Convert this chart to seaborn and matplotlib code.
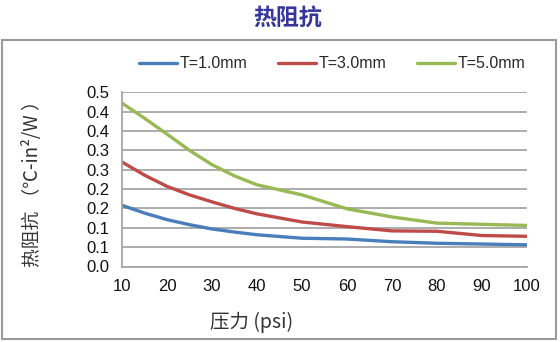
import matplotlib
matplotlib.use("Agg")
import matplotlib.pyplot as plt
import matplotlib.patches as mpatches
import seaborn as sns
import pandas as pd

# ---- data ----
pressure = [10, 15, 20, 25, 30, 35, 40, 50, 60, 70, 80, 90, 100]
t10 = [0.158, 0.138, 0.121, 0.108, 0.097, 0.089, 0.082, 0.073, 0.071, 0.064, 0.060, 0.058, 0.056]
t30 = [0.270, 0.236, 0.207, 0.185, 0.167, 0.150, 0.136, 0.115, 0.103, 0.092, 0.091, 0.080, 0.078]
t50 = [0.422, 0.383, 0.342, 0.300, 0.263, 0.234, 0.211, 0.185, 0.149, 0.128, 0.112, 0.109, 0.106]
series_names = ["T=1.0mm", "T=3.0mm", "T=5.0mm"]
colors = ["#4A7EBB", "#BE4B48", "#98B954"]
x_ticks = [10, 20, 30, 40, 50, 60, 70, 80, 90, 100]
y_ticks = [0.0, 0.05, 0.10, 0.15, 0.20, 0.25, 0.30, 0.35, 0.40, 0.45]
y_tick_labels = ["0.0", "0.1", "0.1", "0.2", "0.2", "0.3", "0.3", "0.4", "0.4", "0.5"]
title = "热阻抗"
x_label = "压力 (psi)"
y_label = "热阻抗 （℃-in²/W ）"

rows = []
for name, vals in zip(series_names, [t10, t30, t50]):
    for p, v in zip(pressure, vals):
        rows.append({"pressure": p, "value": v, "series": name})
df = pd.DataFrame(rows)

sns.set_theme(style="white")
plt.rcParams["font.family"] = ["Noto Sans CJK SC", "DejaVu Sans"]

W, H = 560, 342
fig = plt.figure(figsize=(W / 100, H / 100), dpi=100)
ax = fig.add_axes([122 / W, 1 - 266.5 / H, (527 - 122) / W, (266.5 - 92.3) / H])

sns.lineplot(data=df, x="pressure", y="value", hue="series",
             palette=dict(zip(series_names, colors)), linewidth=2.4,
             ax=ax, legend=True)
for ln in ax.lines:
    ln.set_solid_joinstyle("round")

ax.set_xlim(10, 100)
ax.set_ylim(0, 0.45)
ax.set_xticks(x_ticks)
ax.set_yticks(y_ticks)
ax.set_yticklabels(y_tick_labels)
ax.set_xticklabels([str(v) for v in x_ticks])
ax.set_xlabel("")
ax.set_ylabel("")
grid_c = "#A6A6A6"
ax.yaxis.grid(True, color=grid_c, linewidth=1.3)
ax.xaxis.grid(False)
for s in ["top", "right"]:
    ax.spines[s].set_visible(False)
for s in ["left", "bottom"]:
    ax.spines[s].set_color(grid_c)
    ax.spines[s].set_linewidth(1.3)
ax.tick_params(axis="both", direction="out", length=5, width=1.3, color=grid_c,
               labelsize=12, labelcolor="#111111", pad=4)
for lab in ax.get_xticklabels() + ax.get_yticklabels():
    lab.set_family(["Liberation Sans", "DejaVu Sans"])

# legend at top
handles, labels = ax.get_legend_handles_labels()
ax.get_legend().remove()
fig.legend(handles, labels, loc="center", bbox_to_anchor=(332 / W, 1 - 64 / H),
           ncol=3, frameon=False, handlelength=2.4, handletextpad=0.15,
           columnspacing=1.9, prop={"family": ["Liberation Sans", "DejaVu Sans"], "size": 11.5})

# chart border
fig.add_artist(mpatches.Rectangle((2 / W, 1 - 339 / H), (556 - 2) / W, (339 - 40) / H,
                                  transform=fig.transFigure, fill=False,
                                  edgecolor="#9A9A9A", linewidth=1.5))

fig.text(288 / W, 1 - 18 / H, title, ha="center", va="center", fontsize=16.5,
         fontweight="bold", color="#35359A")
fig.text(252 / W, 1 - 322 / H, x_label, ha="center", va="center", fontsize=14,
         color="#333333")
fig.text(33 / W, 1 - 179 / H, y_label, ha="center", va="center", fontsize=13.5,
         rotation=90, color="#333333")

fig.savefig("out.png", dpi=100)
